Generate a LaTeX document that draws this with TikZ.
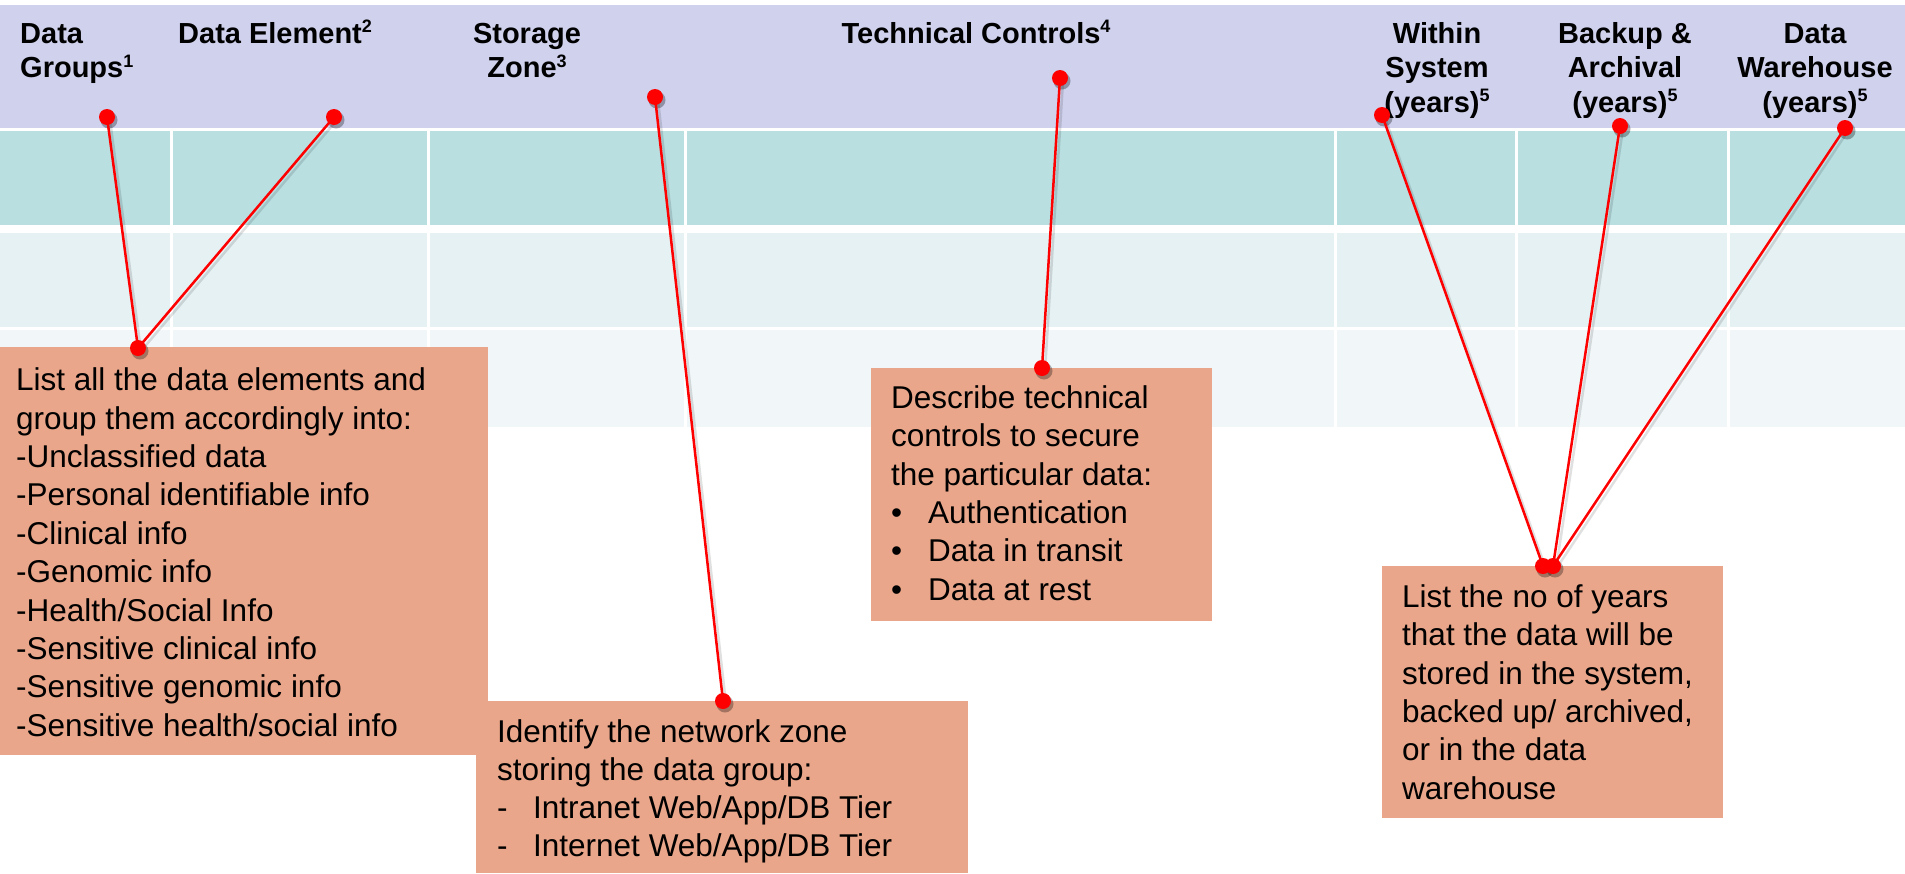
\documentclass[tikz,border=0pt]{standalone}
\usepackage{fontspec}
\setmainfont{Liberation Sans}
\usetikzlibrary{calc}
\definecolor{hdr}{RGB}{207,209,237}
\definecolor{rowa}{RGB}{185,223,225}
\definecolor{rowb}{RGB}{229,241,243}
\definecolor{rowc}{RGB}{241,246,249}
\definecolor{salmon}{RGB}{233,166,138}
\newcommand{\sups}[1]{\raisebox{0.36em}{\fontsize{18pt}{18pt}\selectfont #1}}
\newcommand{\fl}{\rule{0pt}{28pt}}
\begin{document}
\begin{tikzpicture}[x=1pt,y=-1pt,
  hdrtxt/.style={font=\bfseries\fontsize{29pt}{34.5pt}\selectfont, inner sep=0pt, align=center, anchor=north},
  boxtxt/.style={font=\fontsize{31.5pt}{38.4pt}\selectfont, inner sep=0pt, align=left, anchor=north west},
  note/.style={fill=salmon, draw=none, inner sep=0pt, anchor=north west},
  dot/.style={circle, fill=red, minimum size=16pt, inner sep=0pt},
  dotshadow/.style={fill=black, opacity=0.3},
  conn/.style={draw=red, line width=2.5pt},
  connshadow/.style={draw=black, line width=2.5pt, opacity=0.12},
  colline/.style={draw=white, line width=3pt}
]
\useasboundingbox (0,0) rectangle (1905,873);
% table
\fill[hdr] (0,5) rectangle (1905,128);
\fill[rowa] (0,131) rectangle (1905,225);
\fill[rowb] (0,233) rectangle (1905,327);
\fill[rowc] (0,330) rectangle (1905,427);
\foreach \cx in {171,428,685,1335,1516,1728}
  \draw[colline] (\cx,131) -- (\cx,427);
% header texts
\node[hdrtxt, align=left, anchor=north west] (h1) at (20,15) {\fl Data\\Groups\sups{1}};
\node[hdrtxt, align=left, anchor=north west] (h2) at (178,15) {\fl Data Element\sups{2}};
\node[hdrtxt] (h3) at (527,15) {\fl Storage\\Zone\sups{3}};
\node[hdrtxt] (h4) at (976,15) {\fl Technical Controls\sups{4}};
\node[hdrtxt] (h5) at (1437,15) {\fl Within\\System\\(years)\sups{5}};
\node[hdrtxt] (h6) at (1625,15) {\fl Backup \&\\Archival\\(years)\sups{5}};
\node[hdrtxt] (h7) at (1815,15) {\fl Data\\Warehouse\\(years)\sups{5}};
% note boxes
\node[note, minimum width=488pt, minimum height=408pt] (b1) at (0,347) {};
\node[note, minimum width=492pt, minimum height=172pt] (b2) at (476,701) {};
\node[note, minimum width=341pt, minimum height=253pt] (b3) at (871,368) {};
\node[note, minimum width=341pt, minimum height=252pt] (b4) at (1382,566) {};
\node[boxtxt] (t1) at (16,362.5) {\fl List all the data elements and\\group them accordingly into:\\-Unclassified data\\-Personal identifiable info\\-Clinical info\\-Genomic info\\-Health/Social Info\\-Sensitive clinical info\\-Sensitive genomic info\\-Sensitive health/social info};
\node[boxtxt, font=\fontsize{31.5pt}{38pt}\selectfont] (t2) at (497,714) {\fl Identify the network zone\\storing the data group:\\\makebox[36pt][l]{-}Intranet Web/App/DB Tier\\\makebox[36pt][l]{-}Internet Web/App/DB Tier};
\node[boxtxt] (t3) at (891,380) {\fl Describe technical\\controls to secure\\the particular data:\\\makebox[37pt][l]{\textbullet}Authentication\\\makebox[37pt][l]{\textbullet}Data in transit\\\makebox[37pt][l]{\textbullet}Data at rest};
\node[boxtxt] (t4) at (1402,579) {\fl List the no of years\\that the data will be\\stored in the system,\\backed up/ archived,\\or in the data\\warehouse};
% dots
\coordinate (a1) at (107,117);
\coordinate (a2) at (334,117);
\coordinate (ja) at (138,348);
\coordinate (sb) at (655,97);
\coordinate (eb) at (723,701);
\coordinate (sc) at (1060,78);
\coordinate (ec) at (1042,368);
\coordinate (d1) at (1382,115);
\coordinate (d2) at (1620,126);
\coordinate (d3) at (1845,128);
\coordinate (e1) at (1543,566);
\coordinate (e2) at (1553,566);
% shadows
\foreach \p/\q in {a1/ja,a2/ja,sb/eb,sc/ec,d1/e1,d2/e2,d3/e2}
  \draw[connshadow] ($(\p)+(3,3)$) -- ($(\q)+(3,3)$);
\foreach \p in {a1,a2,ja,sb,eb,sc,ec,d1,d2,d3,e1,e2}
  \fill[dotshadow] ($(\p)+(2,3)$) circle (8.5);
% connectors
\foreach \p/\q in {a1/ja,a2/ja,sb/eb,sc/ec,d1/e1,d2/e2,d3/e2}
  \draw[conn] (\p) -- (\q);
\foreach \p in {a1,a2,ja,sb,eb,sc,ec,d1,d2,d3,e1,e2}
  \node[dot] (n\p) at (\p) {};
\end{tikzpicture}
\end{document}
